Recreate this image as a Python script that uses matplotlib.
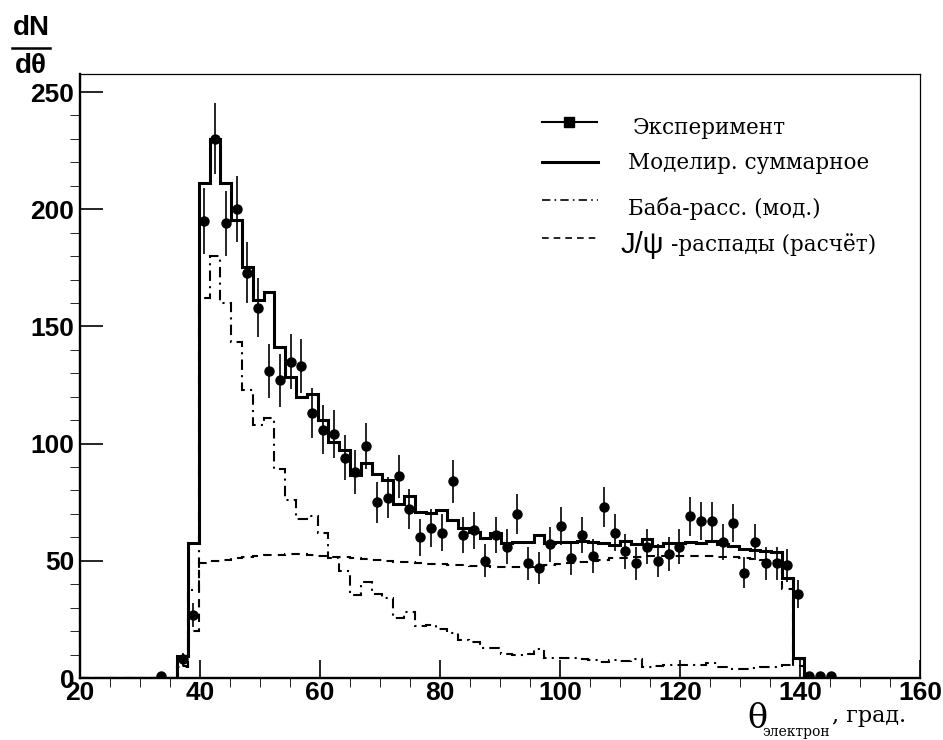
import numpy as np
import matplotlib.pyplot as plt
from matplotlib.lines import Line2D

# binning of the histograms (degrees)
theta_lo = 20.0
bin_w = 1.8

# experiment, counts per bin starting at bin 0 (20.0 deg)
exp_counts = [0, 0, 0, 0, 0, 0, 0, 1, 0, 8,
              27, 195, 230, 194, 200, 173, 158, 131, 127, 135,
              133, 113, 106, 104, 94, 88, 99, 75, 77, 86,
              72, 60, 64, 62, 84, 61, 63, 50, 61, 56,
              70, 49, 47, 57, 65, 51, 61, 52, 73, 62,
              54, 49, 56, 50, 53, 56, 69, 67, 67, 58,
              66, 45, 58, 49, 49, 48, 36, 1, 1, 1]

# simulated sum
model_sum = [0, 0, 0, 0, 0, 0, 0, 0, 0, 9.5,
             57.5, 211, 230, 211, 195.4, 175.5, 161.3, 164.8, 141.3, 128.5,
             120, 121, 110, 100.8, 97.3, 86.6, 91.9, 87, 84.5, 74.2,
             77.6, 71, 70.3, 71.7, 67.4, 63.9, 62.4, 59.6, 61.7, 57.5,
             57.9, 57.9, 61, 57.5, 58.2, 57.9, 58.4, 57.9, 57.5, 56.7,
             58.4, 57.2, 59.3, 56.3, 57.5, 57.5, 58, 57.7, 58.6, 57,
             56.5, 54.9, 54.6, 54.3, 53.9, 42.5, 8.4, 0, 0, 0]

# Bhabha scattering (simulation)
bhabha = [0, 0, 0, 0, 0, 0, 0, 0, 0, 5,
          37.5, 162, 180, 160, 143.5, 123, 108, 111, 89, 76,
          68, 69, 62, 51, 45.5, 35.5, 41, 36, 34, 25.5,
          28.3, 22, 22.5, 21, 19, 16.2, 15.5, 12.7, 13, 10.2,
          10, 10.2, 12.2, 8.4, 8.6, 8.7, 8, 7.7, 7, 7.7,
          7.3, 8, 4.5, 5.1, 5.5, 5.5, 5.5, 5.5, 6.2, 4.5,
          3.8, 3.9, 4.4, 4.5, 4.8, 5.4, 8, 0, 0, 0]

# J/psi decays (calculation)
jpsi = [0, 0, 0, 0, 0, 0, 0, 0, 0, 4.5,
        20, 49, 50, 50.5, 51, 51.5, 52, 52.3, 52.5, 52.7,
        52.7, 52.5, 52.2, 51.8, 51.5, 51, 50.6, 50.2, 50, 49.7,
        49.4, 49.1, 48.8, 48.5, 48.2, 48, 47.8, 47.6, 47.5, 47.4,
        47.4, 47.5, 47.7, 48, 48.5, 49, 49.5, 50, 50.5, 51,
        51.3, 51.6, 51.9, 52, 52.1, 52.2, 52.2, 52.1, 52, 51.8,
        51.5, 51.2, 50.8, 50.5, 50, 38, 5, 0, 0, 0]

legend_labels = ['Эксперимент', 'Моделир. суммарное', 'Баба-расс. (мод.)', '-распады (расчёт)']

edges = theta_lo + bin_w * np.arange(len(model_sum) + 1)
centers = 0.5 * (edges[:-1] + edges[1:])
counts = np.array(exp_counts, dtype=float)
has = counts > 0

fig = plt.figure(figsize=(9.43, 7.40), dpi=100)
ax = fig.add_axes([80 / 943, 1 - 678 / 740, 840 / 943, 604 / 740])

dashdot = (0, (5, 2.5, 1, 2.5))
dashed = (0, (4, 3))

ax.stairs(bhabha, edges, color='k', lw=1.5, linestyle=dashdot)
ax.stairs(jpsi, edges, color='k', lw=1.5, linestyle=dashed)
ax.stairs(model_sum, edges, color='k', lw=2.2)
ax.errorbar(centers[has], counts[has], yerr=np.sqrt(counts[has]), fmt='o',
            color='k', ms=6.5, elinewidth=1.2, capsize=0)

ax.set_xlim(20, 160)
ax.set_ylim(0, 257.7)
ax.set_xticks([20, 40, 60, 80, 100, 120, 140, 160])
ax.set_xticks(np.arange(20, 161, 5), minor=True)
ax.set_yticks([0, 50, 100, 150, 200, 250])
ax.set_yticks(np.arange(0, 251, 10), minor=True)
ax.tick_params(direction='in', top=False, right=False, width=1.2)
ax.tick_params(axis='x', which='major', length=13, pad=2)
ax.tick_params(axis='x', which='minor', length=6.5)
ax.tick_params(axis='y', which='major', length=16.5, pad=4)
ax.tick_params(axis='y', which='minor', length=7)
for lab in ax.get_xticklabels() + ax.get_yticklabels():
    lab.set_fontfamily('Liberation Sans')
    lab.set_fontweight('bold')
    lab.set_fontsize(19)
for s in ['left', 'bottom']:
    ax.spines[s].set_linewidth(1.7)
for s in ['top', 'right']:
    ax.spines[s].set_linewidth(0.9)

# legend, drawn by hand like the ROOT one
tr = ax.transAxes
ax.add_line(Line2D([0.550, 0.615], [0.9205, 0.9205], color='k', lw=1.5, transform=tr))
ax.plot([0.5825], [0.9205], marker='s', color='k', ms=7, transform=tr)
ax.add_line(Line2D([0.550, 0.617], [0.854, 0.854], color='k', lw=2.2, transform=tr))
ax.add_line(Line2D([0.550, 0.617], [0.791, 0.791], color='k', lw=1.2,
                   linestyle=(0, (5, 2.5, 1, 2.5)), transform=tr))
ax.add_line(Line2D([0.550, 0.617], [0.728, 0.728], color='k', lw=1.2,
                   linestyle=(0, (4, 3)), transform=tr))
serif = 'DejaVu Serif'
ax.text(0.658, 0.911, legend_labels[0], transform=tr, family=serif, fontsize=15.5, va='center')
ax.text(0.652, 0.853, legend_labels[1], transform=tr, family=serif, fontsize=15.5, va='center')
ax.text(0.652, 0.778, legend_labels[2], transform=tr, family=serif, fontsize=15.5, va='center')
ax.text(0.643, 0.717, 'J/ψ', transform=tr, family='Liberation Sans', fontsize=21, va='center')
ax.text(0.703, 0.717, legend_labels[3], transform=tr, family=serif, fontsize=15.5, va='center')

# y title as a fraction dN / dθ
fig.text(31 / 943, 1 - 28 / 740, 'dN', family='Liberation Sans', fontweight='bold',
         fontsize=20, ha='center', va='center')
fig.add_artist(Line2D([12 / 943, 50 / 943], [1 - 48 / 740, 1 - 48 / 740], color='k', lw=1.8))
fig.text(31 / 943, 1 - 66 / 740, 'dθ', family='Liberation Sans', fontweight='bold',
         fontsize=20, ha='center', va='center')

# x title: θ with subscript
fig.text(757 / 943, 1 - 719 / 740, 'θ', family=serif, fontsize=24, ha='center', va='center')
fig.text(796 / 943, 1 - 732 / 740, 'электрон', family=serif, fontsize=10, ha='center', va='center')
fig.text(832 / 943, 1 - 716 / 740, ', град.', family=serif, fontsize=16, ha='left', va='center')

fig.savefig('out.png', dpi=100)
